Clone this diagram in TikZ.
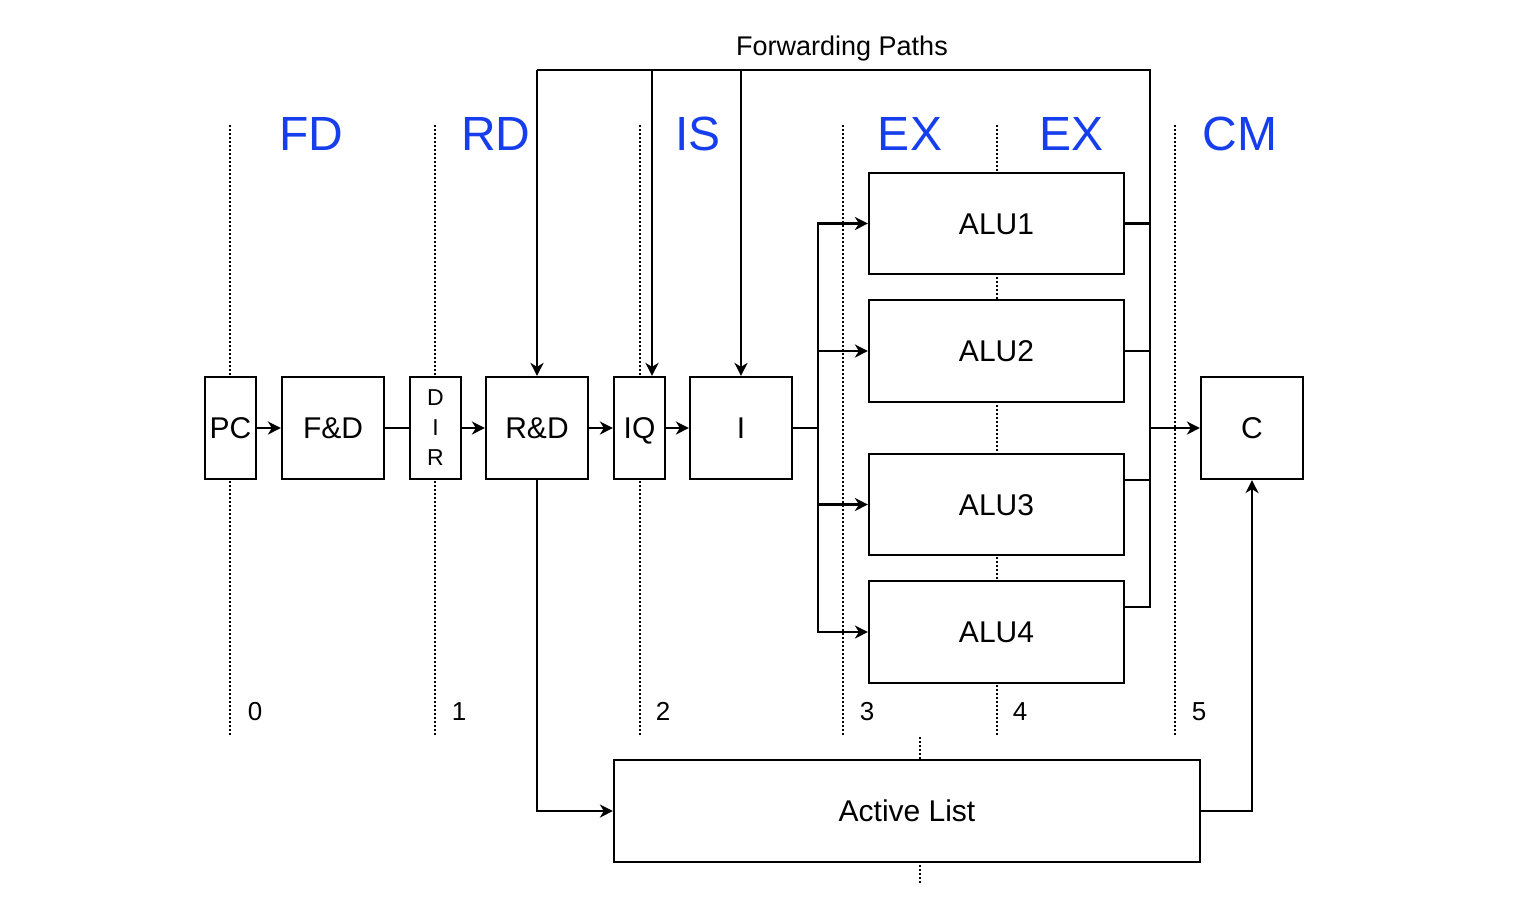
\documentclass[tikz,border=0pt]{standalone}
\usepackage{fontspec}
\setmainfont{Liberation Sans}
\usetikzlibrary{arrows.meta,calc}
\definecolor{stageblue}{RGB}{22,62,236}
\begin{document}
\begin{tikzpicture}[x=0.5pt,y=-0.5pt,
  box/.style={draw,line width=1.1pt,fill=white,inner sep=0pt,text height=10.7pt,text depth=0pt,font=\fontsize{15}{18}\selectfont},
  conn/.style={line width=1.1pt},
  arr/.style={line width=1.1pt,-{Stealth[length=6.5pt,width=6.5pt,inset=2pt]}},
  sep/.style={line width=1.2pt,dash pattern=on 1pt off 1pt},
  stage/.style={text=stageblue,font=\fontsize{24}{28}\selectfont,inner sep=0pt,text height=17.2pt,text depth=0pt},
  num/.style={font=\fontsize{13}{15}\selectfont,inner sep=0pt,text height=9.3pt,text depth=0pt}]
\useasboundingbox (0,0) rectangle (1530,896);
% separators
\foreach \x in {230,435,640,843,997,1175} \draw[sep] (\x,125) -- (\x,735);
\draw[sep] (920,737) -- (920,885);
% stage labels
\node[stage] (sFD) at (311,133) {FD};
\node[stage] (sRD) at (496,133) {RD};
\node[stage] (sIS) at (698,133) {IS};
\node[stage] (sEX1) at (910,133) {EX};
\node[stage] (sEX2) at (1071,133) {EX};
\node[stage] (sCM) at (1240,133) {CM};
% numbers
\node[num] (n0) at (255,711) {0};
\node[num] (n1) at (459,711) {1};
\node[num] (n2) at (663,711) {2};
\node[num] (n3) at (867,711) {3};
\node[num] (n4) at (1020,711) {4};
\node[num] (n5) at (1199,711) {5};
% boxes
\node[box,minimum width=25.5pt,minimum height=51pt] (pc) at (230.5,428) {PC};
\node[box,minimum width=25.5pt,minimum height=51pt,align=center,text height=,text depth=,font=\fontsize{11.5}{15}\selectfont] (dir) at (435.5,428) {D\\I\\R};
\node[box,minimum width=51pt,minimum height=51pt] (fd) at (333,428) {F\&D};
\node[box,minimum width=51pt,minimum height=51pt] (rd) at (537,428) {R\&D};
\node[box,minimum width=25.5pt,minimum height=51pt] (iq) at (639.5,428) {IQ};
\node[box,minimum width=51pt,minimum height=51pt] (i) at (741,428) {I};
\node[box,minimum width=127.5pt,minimum height=50.5pt] (alu1) at (996.5,223.5) {ALU1};
\node[box,minimum width=127.5pt,minimum height=51pt] (alu2) at (996.5,351) {ALU2};
\node[box,minimum width=127.5pt,minimum height=50.5pt] (alu3) at (996.5,504.5) {ALU3};
\node[box,minimum width=127.5pt,minimum height=51pt] (alu4) at (996.5,632) {ALU4};
\node[box,minimum width=51pt,minimum height=51pt] (c) at (1252,428) {C};
\node[box,minimum width=293pt,minimum height=51pt] (al) at (907,811) {Active List};
\node[inner sep=0pt,text height=9.7pt,text depth=0pt,font=\fontsize{13.5}{16}\selectfont] (fwd) at (842,46) {Forwarding Paths};
% pipeline connectors
\draw[arr] (pc) -- (fd);
\draw[conn] (fd) -- (dir);
\draw[arr] (dir) -- (rd);
\draw[arr] (rd) -- (iq);
\draw[arr] (iq) -- (i);
% issue bus
\coordinate (bus) at (818,428);
\draw[conn] (i) -- (bus);
\draw[arr] (bus) |- (alu1);
\draw[arr] (bus) |- (alu2);
\draw[arr] (bus) |- (alu3);
\draw[arr] (bus) |- (alu4);
% result bus
\coordinate (ob) at (1150,428);
\coordinate (ftop) at (1150,70);
\coordinate (frd) at (537,70);
\coordinate (fiq) at (652,70);
\coordinate (fi) at (741,70);
\coordinate (a3out) at ($(alu3.east)+(0,-24.5)$);
\coordinate (a4out) at ($(alu4.east)+(0,-25)$);
\draw[conn] (alu1) -| (ob);
\draw[conn] (alu2) -| (ob);
\draw[conn] (a3out) -| (ob);
\draw[conn] (a4out) -| (ftop) -- (frd);
\draw[arr] (ob) -- (c);
\draw[arr] (frd) -- (rd);
\draw[arr] (fiq) -- (fiq |- iq.north);
\draw[arr] (fi) -- (i);
% active list
\draw[arr] (rd) |- (al);
\draw[arr] (al) -| (c);
\end{tikzpicture}
\end{document}
